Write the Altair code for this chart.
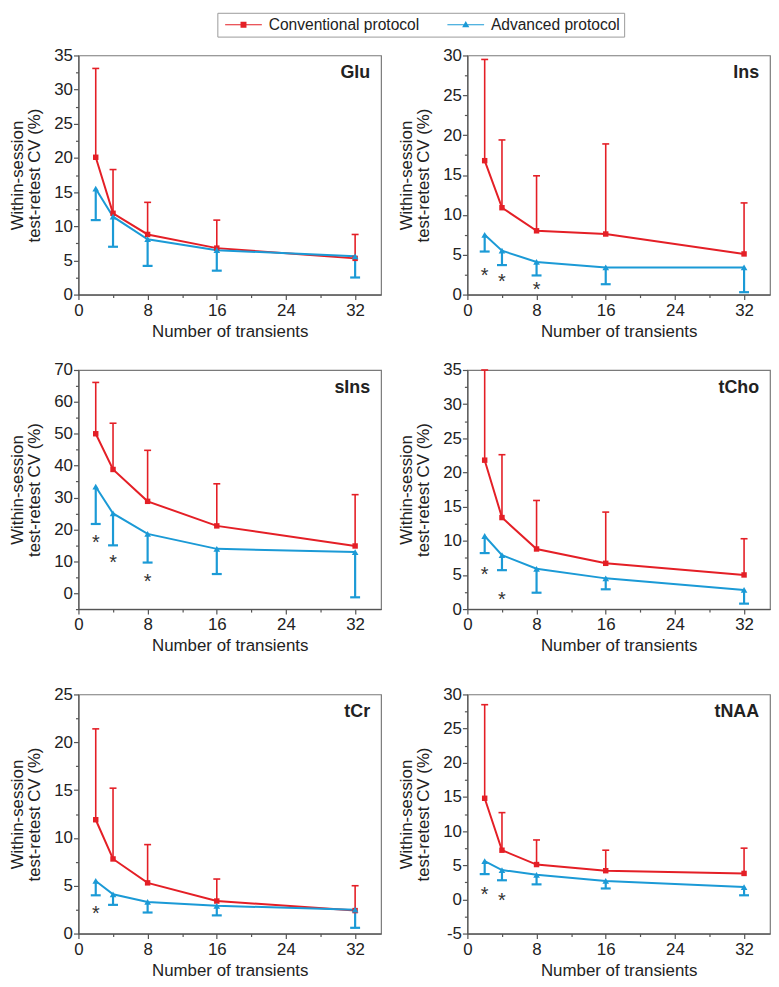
import altair as alt
import pandas as pd

FONT = "Liberation Sans"
RED = "#e41f26"
BLUE = "#1b9ad6"
TXT = "#222222"

protocols = ["Conventional protocol", "Advanced protocol"]
metabolites = ["Glu", "Ins", "sIns", "tCho", "tCr", "tNAA"]
transients = [2, 4, 8, 16, 32]
x_ticks = [0, 4, 8, 12, 16, 20, 24, 28, 32]
y_title = ["Within-session", "test-retest CV (%)"]
x_title = "Number of transients"

# Glu
glu_conv = [20.1, 11.9, 8.8, 6.8, 5.3]
glu_conv_upper = [33.1, 18.3, 13.5, 10.9, 8.8]
glu_adv = [15.5, 11.4, 8.1, 6.5, 5.6]
glu_adv_lower = [10.9, 7.0, 4.2, 3.5, 2.5]
glu_star_x = []
glu_star_y = []

# Ins
ins_conv = [16.8, 10.9, 8.0, 7.6, 5.1]
ins_conv_upper = [29.5, 19.4, 14.9, 18.9, 11.5]
ins_adv = [7.5, 5.5, 4.1, 3.4, 3.4]
ins_adv_lower = [5.4, 3.7, 2.4, 1.3, 0.3]
ins_star_x = [2, 4, 8]
ins_star_y = [3.0, 2.2, 1.2]

# sIns
sins_conv = [50.0, 38.8, 28.8, 21.1, 14.8]
sins_conv_upper = [66.1, 53.3, 44.8, 34.3, 30.9]
sins_adv = [33.4, 25.0, 18.6, 13.9, 12.9]
sins_adv_lower = [21.7, 15.0, 9.6, 6.0, -1.3]
sins_star_x = [2, 4, 8]
sins_star_y = [17.4, 11.1, 5.2]

# tCho
tcho_conv = [21.8, 13.4, 8.8, 6.7, 5.0]
tcho_conv_upper = [35.0, 22.6, 15.9, 14.2, 10.3]
tcho_adv = [10.7, 7.9, 5.9, 4.5, 2.8]
tcho_adv_lower = [8.2, 5.7, 2.4, 2.9, 0.8]
tcho_star_x = [2, 4]
tcho_star_y = [5.7, 2.1]

# tCr
tcr_conv = [11.9, 7.8, 5.3, 3.4, 2.4]
tcr_conv_upper = [21.4, 15.2, 9.3, 5.7, 5.0]
tcr_adv = [5.5, 4.1, 3.3, 2.9, 2.5]
tcr_adv_lower = [4.0, 3.0, 2.2, 1.9, 0.6]
tcr_star_x = [2]
tcr_star_y = [2.6]

# tNAA
tnaa_conv = [14.8, 7.2, 5.1, 4.2, 3.8]
tnaa_conv_upper = [28.5, 12.7, 8.7, 7.2, 7.5]
tnaa_adv = [5.6, 4.3, 3.6, 2.7, 1.8]
tnaa_adv_lower = [3.7, 2.8, 2.2, 1.6, 0.6]
tnaa_star_x = [2, 4]
tnaa_star_y = [1.3, 0.5]

# y-axis ranges: (min, max, minor step, major step)
y_ranges = {
    "Glu": (0, 35, 2.5, 5),
    "Ins": (0, 30, 2.5, 5),
    "sIns": (-5, 70, 5, 10),
    "tCho": (0, 35, 2.5, 5),
    "tCr": (0, 25, 2.5, 5),
    "tNAA": (-5, 30, 2.5, 5),
}

W, H = 305, 241

# legend symbols: line with marker (custom paths)
SYM_SQ = "M-1,-0.14H8.25V0.14H-1Z M2.875,-0.75H4.375V0.75H2.875Z"
SYM_TRI = "M-1,-0.14H8.25V0.14H-1Z M3.625,-0.95L4.525,0.6H2.725Z"


def tick_values(lo, hi, step):
    vals = []
    v = lo
    while v <= hi + 1e-9:
        vals.append(round(v, 3))
        v += step
    return vals


def make_panel(name, conv, conv_hi, adv, adv_lo, sx, sy):
    lo, hi, minor, major = y_ranges[name]
    df = pd.DataFrame({"n": transients, "conv": conv, "conv_hi": conv_hi,
                       "adv": adv, "adv_lo": adv_lo})
    xaxis = alt.Axis(
        values=x_ticks,
        labelExpr="datum.value % 8 === 0 ? '' + datum.value : ''",
        tickSize={"condition": {"test": "datum.value % 8 === 0", "value": 5}, "value": 3},
        title=x_title, labelFlush=False, labelOverlap=False,
    )
    yaxis = alt.Axis(
        values=tick_values(lo, hi, minor),
        labelExpr=f"datum.value % {major} === 0 ? '' + datum.value : ''",
        tickSize={"condition": {"test": f"datum.value % {major} === 0", "value": 5}, "value": 3},
        title=y_title, labelOverlap=False,
    )
    X = alt.X("n:Q", scale=alt.Scale(domain=[0, 35], nice=False, zero=False), axis=xaxis)

    def Y(f):
        return alt.Y(f"{f}:Q", scale=alt.Scale(domain=[lo, hi], nice=False, zero=False), axis=yaxis)

    base = alt.Chart(df)
    layers = [
        base.mark_rule(color=RED, strokeWidth=1.6).encode(x=X, y=Y("conv"), y2="conv_hi:Q"),
        base.mark_tick(color=RED, orient="horizontal", size=7, thickness=1.6, opacity=1).encode(x=X, y=Y("conv_hi")),
        base.mark_rule(color=BLUE, strokeWidth=2.2).encode(x=X, y=Y("adv"), y2="adv_lo:Q"),
        base.mark_tick(color=BLUE, orient="horizontal", size=10, thickness=2.2, opacity=1).encode(x=X, y=Y("adv_lo")),
        base.mark_line(color=RED, strokeWidth=2).encode(x=X, y=Y("conv")),
        base.mark_line(color=BLUE, strokeWidth=2).encode(x=X, y=Y("adv")),
        base.mark_point(shape="square", filled=True, size=30, color=RED, opacity=1).encode(x=X, y=Y("conv")),
        base.mark_point(shape="triangle-up", filled=True, size=45, color=BLUE, opacity=1).encode(x=X, y=Y("adv")),
    ]
    if sx:
        sdf = pd.DataFrame({"n": sx, "y": sy})
        layers.append(
            alt.Chart(sdf).mark_text(text="*", fontSize=20, font=FONT, baseline="alphabetic",
                                     dy=11, color="#333333").encode(x=X, y=Y("y"))
        )
    ldf = pd.DataFrame({"label": [name]})
    layers.append(
        alt.Chart(ldf).mark_text(align="right", baseline="middle", fontSize=18, fontWeight="bold",
                                 font=FONT, color=TXT).encode(
            x=alt.value(W - 11), y=alt.value(18), text="label:N")
    )
    return alt.layer(*layers).properties(width=W, height=H)


p_glu = make_panel("Glu", glu_conv, glu_conv_upper, glu_adv, glu_adv_lower, glu_star_x, glu_star_y)
p_ins = make_panel("Ins", ins_conv, ins_conv_upper, ins_adv, ins_adv_lower, ins_star_x, ins_star_y)
p_sins = make_panel("sIns", sins_conv, sins_conv_upper, sins_adv, sins_adv_lower, sins_star_x, sins_star_y)
p_tcho = make_panel("tCho", tcho_conv, tcho_conv_upper, tcho_adv, tcho_adv_lower, tcho_star_x, tcho_star_y)
p_tcr = make_panel("tCr", tcr_conv, tcr_conv_upper, tcr_adv, tcr_adv_lower, tcr_star_x, tcr_star_y)
p_tnaa = make_panel("tNAA", tnaa_conv, tnaa_conv_upper, tnaa_adv, tnaa_adv_lower, tnaa_star_x, tnaa_star_y)

leg = alt.Legend(
    orient="none", legendX=140, legendY=-6, direction="horizontal", title=None,
    labelFontSize=15.7, labelFont=FONT, labelColor=TXT, symbolSize=64, symbolStrokeWidth=0,
    labelOffset=32, columnPadding=24, padding=4, strokeColor="#9a9a9a", labelLimit=300,
    symbolOpacity=1,
)
legend_chart = alt.Chart(pd.DataFrame({"protocol": protocols})).mark_point(
    filled=True, opacity=1
).encode(
    color=alt.Color("protocol:N", scale=alt.Scale(domain=protocols, range=[RED, BLUE]), legend=leg),
    shape=alt.Shape("protocol:N", scale=alt.Scale(domain=protocols, range=[SYM_SQ, SYM_TRI]), legend=leg),
).transform_filter("false").properties(
    width=400, height=15, view=alt.ViewBackground(stroke="transparent")
)

row1 = alt.hconcat(p_glu, p_ins, spacing=15)
row2 = alt.hconcat(p_sins, p_tcho, spacing=15)
row3 = alt.hconcat(p_tcr, p_tnaa, spacing=15)

chart = alt.vconcat(
    legend_chart,
    alt.vconcat(row1, alt.vconcat(row2, row3, spacing=30), spacing=20),
    spacing=11,
).properties(padding=0).configure(font=FONT).configure_view(
    stroke="#7a7a7a", strokeWidth=1.2
).configure_axis(
    domainColor="#555555", domainWidth=1.2, tickColor="#555555", tickWidth=1.2,
    labelColor=TXT, titleColor=TXT, labelFont=FONT, titleFont=FONT,
    labelFontSize=17, titleFontSize=17, titleFontWeight="normal", grid=False,
).configure_axisX(labelPadding=3, titlePadding=5).configure_axisY(
    labelPadding=1, titlePadding=10, titleLineHeight=17
)

chart.save("out.html", embed_options={"renderer": "svg", "actions": False})
